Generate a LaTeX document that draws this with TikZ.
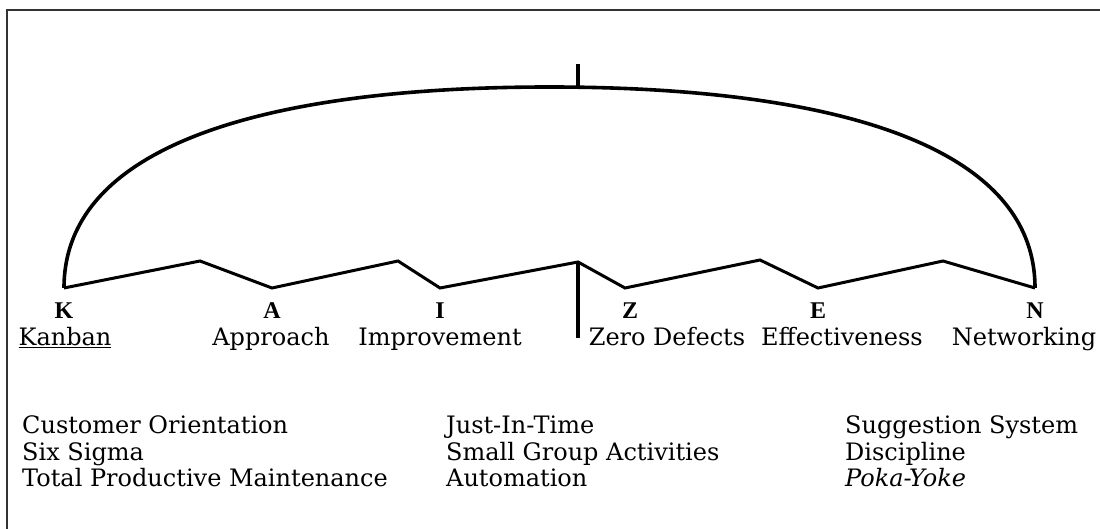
\documentclass[tikz,border=0pt]{standalone}
\usepackage{fontspec}
\setmainfont{DejaVu Serif}
\newfontfamily\letterfont{Liberation Serif}
\begin{document}
\begin{tikzpicture}[x=1pt,y=-1pt,
  frameline/.style={line width=2.4pt,draw=black!80},
  umbrella/.style={line width=3.6pt,line join=round},
  ribs/.style={line width=3pt,line join=miter},
  shaft/.style={line width=3.4pt},
  letter/.style={anchor=base,inner sep=0pt,font=\letterfont\bfseries\fontsize{24}{27}\selectfont},
  word/.style={anchor=base,inner sep=0pt,font=\fontsize{24}{28}\selectfont},
  listtext/.style={anchor=base west,inner sep=0pt,font=\fontsize{24}{28}\selectfont}]
\useasboundingbox (0,0) rectangle (1100,529);
% partial frame
\draw[frameline] (1100,10) -- (7,10) -- (7,529);

% canopy outline
\coordinate (kL) at (64,288);
\coordinate (apex) at (549.5,87);
\coordinate (nR) at (1035,288);
\draw[umbrella] (kL) .. controls (64,140) and (280,87) .. (apex)
  .. controls (819,87) and (1035,140) .. (nR);
% tip of the shaft
\coordinate (tipTop) at (578,64);
\coordinate (tipBot) at (578,88);
\draw[shaft] (tipTop) -- (tipBot);

% lower edge with its folds
\coordinate (p1) at (200,261);
\coordinate (vA) at (272,288);
\coordinate (p2) at (398,261);
\coordinate (vI) at (440,288);
\coordinate (mid) at (578,262);
\coordinate (vZ) at (625,288);
\coordinate (p3) at (760,260);
\coordinate (vE) at (818,288);
\coordinate (p4) at (943,261);
\draw[ribs] (kL) -- (p1) -- (vA) -- (p2) -- (vI) -- (mid) -- (vZ) -- (p3) -- (vE) -- (p4) -- (nR);
% handle
\coordinate (handle) at (578,338);
\draw[shaft] (mid) -- (handle);

% initials
\node[letter] (K) at (64,319) {K};
\node[letter] (A) at (272,319) {A};
\node[letter] (I) at (440,319) {I};
\node[letter] (Z) at (630,319) {Z};
\node[letter] (E) at (818,319) {E};
\node[letter] (N) at (1035,319) {N};

% words
\node[word] (wK) at (65,345) {\underline{Kanban}};
\node[word] (wA) at (271,345) {Approach};
\node[word] (wI) at (440,345) {Improvement};
\node[word] (wZ) at (667,345) {Zero Defects};
\node[word] (wE) at (842,345) {Effectiveness};
\node[word] (wN) at (1024,345) {Networking};

% practices
\node[listtext] (c1a) at (22,433) {Customer Orientation};
\node[listtext] (c1b) at (22,460) {Six Sigma};
\node[listtext] (c1c) at (22,486) {Total Productive Maintenance};
\node[listtext] (c2a) at (446,433) {Just-In-Time};
\node[listtext] (c2b) at (446,460) {Small Group Activities};
\node[listtext] (c2c) at (446,486) {Automation};
\node[listtext] (c3a) at (845,433) {Suggestion System};
\node[listtext] (c3b) at (845,460) {Discipline};
\node[listtext] (c3c) at (845,486) {\itshape Poka-Yoke};
\end{tikzpicture}
\end{document}
